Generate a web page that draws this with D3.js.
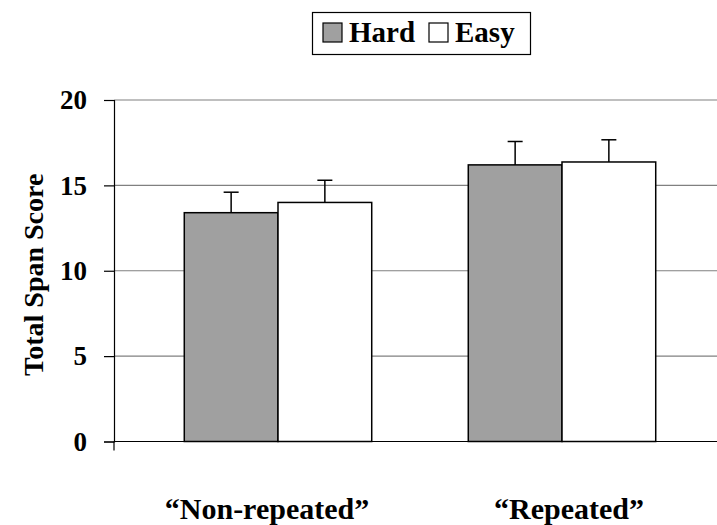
<!DOCTYPE html>
<html lang="en">
<head>
<meta charset="UTF-8">
<script src="https://d3js.org/d3.v7.min.js"></script>
<style>
  body { margin: 0; background: #fff; }
  text { font-family: "Liberation Serif", "Times New Roman", serif; font-weight: bold; }
</style>
</head>
<body>
<div id="chart"></div>
<script>
  // data
  const categories = ["\u201CNon-repeated\u201D", "\u201CRepeated\u201D"]
  const seriesNames = ["Hard", "Easy"]
  const hardMeans = [13.4, 16.2]
  const easyMeans = [14.0, 16.37]
  const hardErr = [1.2, 1.37]
  const easyErr = [1.3, 1.3]
  const yTicks = [0, 5, 10, 15, 20]

  const width = 717, height = 525
  const colors = { Hard: "#a0a0a0", Easy: "#ffffff" }

  const svg = d3.select("#chart").append("svg")
    .attr("width", width)
    .attr("height", height)

  const plot = { left: 114, right: 717, top: 100, bottom: 441.5 }

  const y = d3.scaleLinear().domain([0, 20]).range([plot.bottom, plot.top])

  // outer scale for labels, inner scale for the bar groups
  const xLabel = d3.scaleBand().domain(categories).range([116, 720])
  const xGroup = d3.scaleBand().domain(categories).range([136, 704]).paddingInner(0.34).paddingOuter(0.17)
  const xSeries = d3.scaleBand().domain(seriesNames).range([0, xGroup.bandwidth()])

  // gridlines
  svg.append("g").selectAll("line")
    .data(yTicks.filter(d => d > 0))
    .join("line")
    .attr("x1", plot.left).attr("x2", plot.right)
    .attr("y1", d => y(d)).attr("y2", d => y(d))
    .attr("stroke", "#808080").attr("stroke-width", 1.2)

  // bars
  const rows = []
  categories.forEach((c, i) => {
    rows.push({ cat: c, s: "Hard", v: hardMeans[i], e: hardErr[i] })
    rows.push({ cat: c, s: "Easy", v: easyMeans[i], e: easyErr[i] })
  })
  const cx = d => xGroup(d.cat) + xSeries(d.s) + xSeries.bandwidth() / 2

  const bars = svg.append("g")
  bars.selectAll("line.err")
    .data(rows)
    .join("line")
    .attr("class", "err")
    .attr("x1", cx).attr("x2", cx)
    .attr("y1", d => y(d.v)).attr("y2", d => y(d.v + d.e))
    .attr("stroke", "#000").attr("stroke-width", 1.5)
  bars.selectAll("line.cap")
    .data(rows)
    .join("line")
    .attr("class", "cap")
    .attr("x1", d => cx(d) - 7.5).attr("x2", d => cx(d) + 7.5)
    .attr("y1", d => y(d.v + d.e)).attr("y2", d => y(d.v + d.e))
    .attr("stroke", "#000").attr("stroke-width", 1.5)
  bars.selectAll("rect")
    .data(rows)
    .join("rect")
    .attr("x", d => xGroup(d.cat) + xSeries(d.s))
    .attr("y", d => y(d.v))
    .attr("width", xSeries.bandwidth())
    .attr("height", d => y(0) - y(d.v))
    .attr("fill", d => colors[d.s])
    .attr("stroke", "#000").attr("stroke-width", 1.5)

  // y axis
  const yAxis = svg.append("g")
    .attr("transform", `translate(${plot.left},0)`)
    .call(d3.axisLeft(y).tickValues(yTicks).tickSize(10).tickPadding(17))
  yAxis.select(".domain").attr("stroke", "#000").attr("stroke-width", 1.2)
  yAxis.selectAll(".tick line").attr("stroke", "#000").attr("stroke-width", 1.2)
  yAxis.selectAll(".tick text")
    .attr("font-size", 27).attr("fill", "#000")
    .style("font-family", "Liberation Serif, serif").style("font-weight", "bold")

  // x axis line
  svg.append("line")
    .attr("x1", plot.left).attr("x2", plot.right)
    .attr("y1", y(0)).attr("y2", y(0))
    .attr("stroke", "#000").attr("stroke-width", 1.2)
  svg.append("line")
    .attr("x1", plot.left).attr("x2", plot.left)
    .attr("y1", y(0)).attr("y2", y(0) + 9)
    .attr("stroke", "#000").attr("stroke-width", 1.2)

  // category labels
  svg.append("g").selectAll("text")
    .data(categories)
    .join("text")
    .attr("x", d => xLabel(d) + xLabel.bandwidth() / 2)
    .attr("y", 519)
    .attr("text-anchor", "middle")
    .attr("font-size", 30)
    .text(d => d)

  // y axis title
  svg.append("text")
    .attr("transform", `translate(43,${(plot.top + plot.bottom) / 2 + 4}) rotate(-90)`)
    .attr("text-anchor", "middle")
    .attr("font-size", 28)
    .text("Total Span Score")

  // legend
  const legend = svg.append("g")
  legend.append("rect")
    .attr("x", 312.5).attr("y", 12.5).attr("width", 218).attr("height", 42)
    .attr("fill", "#fff").attr("stroke", "#000").attr("stroke-width", 1.2)
  const legendX = [323, 429]
  seriesNames.forEach((s, i) => {
    legend.append("rect")
      .attr("x", legendX[i]).attr("y", 23).attr("width", 19).attr("height", 19)
      .attr("fill", colors[s]).attr("stroke", "#000").attr("stroke-width", 1.2)
    legend.append("text")
      .attr("x", legendX[i] + 26).attr("y", 42)
      .attr("font-size", 29)
      .text(s)
  })
</script>
</body>
</html>
